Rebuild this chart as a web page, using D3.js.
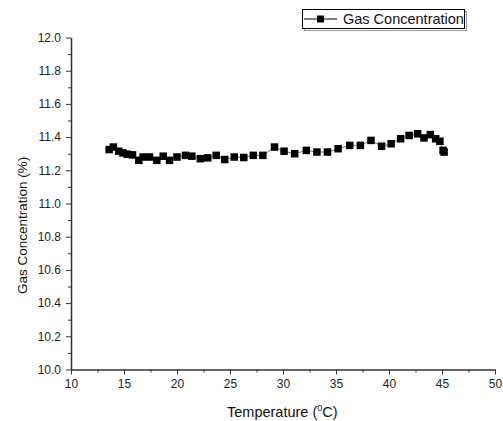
<!DOCTYPE html>
<html>
<head>
<meta charset="utf-8">
<script src="https://cdn.jsdelivr.net/npm/d3@7"></script>
<style>
    body { margin: 0; background: #fff; }
    svg { display: block; font-family: Arial, "Liberation Sans", sans-serif; }
    .axis text { fill: #222; font-size: 12px; }
    .axis path, .axis line { stroke: #333; }
</style>
</head>
<body>
<div id="chart"></div>
<script>

// temperature (deg C) and gas concentration (%)
var temperature = [13.6, 14.0, 14.5, 14.9, 15.3, 15.8, 16.4, 16.8, 17.4, 18.1, 18.7, 19.3,
    20.0, 20.8, 21.4, 22.2, 22.9, 23.7, 24.5, 25.4, 26.3, 27.2, 28.1, 29.2,
    30.1, 31.1, 32.2, 33.2, 34.2, 35.2, 36.3, 37.3, 38.3, 39.3, 40.2, 41.1,
    41.9, 42.7, 43.3, 43.9, 44.4, 44.8, 45.1, 45.2];
var concentration = [11.325, 11.34, 11.315, 11.305, 11.297, 11.293, 11.26, 11.28, 11.28, 11.26, 11.285, 11.26,
    11.28, 11.29, 11.285, 11.27, 11.275, 11.29, 11.265, 11.28, 11.277, 11.29, 11.29, 11.34,
    11.315, 11.30, 11.32, 11.31, 11.31, 11.33, 11.35, 11.35, 11.38, 11.345, 11.36, 11.39,
    11.41, 11.42, 11.395, 11.415, 11.39, 11.375, 11.32, 11.31];

var xTicks = [10, 15, 20, 25, 30, 35, 40, 45, 50];
var yTicks = [10.0, 10.2, 10.4, 10.6, 10.8, 11.0, 11.2, 11.4, 11.6, 11.8, 12.0];
var seriesName = 'Gas Concentration';

var width = 503;
var height = 421;
var margin = { left: 71, top: 37.5, right: 8, bottom: 51.5 };

var points = temperature.map((t, i) => ({ t: t, c: concentration[i] }));

var x = d3.scaleLinear()
    .domain([10, 50])
    .range([margin.left, width - margin.right]);

var y = d3.scaleLinear()
    .domain([10, 12])
    .range([height - margin.bottom, margin.top]);

var svg = d3.select('#chart')
    .append('svg')
    .attr('width', width)
    .attr('height', height);

// minor ticks first, then major ticks with labels
svg.append('g')
    .attr('class', 'axis')
    .attr('transform', 'translate(0,' + y(10) + ')')
    .call(d3.axisBottom(x).tickValues(d3.range(12.5, 50, 5)).tickSize(3).tickFormat(''))
    .call(g => g.select('.domain').remove());

svg.append('g')
    .attr('class', 'axis')
    .attr('transform', 'translate(' + x(10) + ',0)')
    .call(d3.axisLeft(y).tickValues(d3.range(10.1, 12, 0.2)).tickSize(3).tickFormat(''))
    .call(g => g.select('.domain').remove());

svg.append('g')
    .attr('class', 'axis')
    .attr('transform', 'translate(0,' + y(10) + ')')
    .call(d3.axisBottom(x).tickValues(xTicks).tickSize(5).tickSizeOuter(0).tickPadding(5).tickFormat(d3.format('d')))
    .call(g => g.select('.domain').attr('stroke-width', 1.5));

svg.append('g')
    .attr('class', 'axis')
    .attr('transform', 'translate(' + x(10) + ',0)')
    .call(d3.axisLeft(y).tickValues(yTicks).tickSize(5).tickSizeOuter(0).tickPadding(5).tickFormat(d3.format('.1f')))
    .call(g => g.select('.domain').attr('stroke-width', 1.5));

// series
svg.append('path')
    .datum(points)
    .attr('fill', 'none')
    .attr('stroke', '#777')
    .attr('stroke-width', 1)
    .attr('d', d3.line().x(d => x(d.t)).y(d => y(d.c)));

svg.selectAll('rect.pt')
    .data(points)
    .enter()
    .append('rect')
    .attr('class', 'pt')
    .attr('x', d => x(d.t) - 3.75)
    .attr('y', d => y(d.c) - 3.75)
    .attr('width', 7.5)
    .attr('height', 7.5)
    .attr('fill', '#000');

// axis titles
var xTitle = svg.append('text')
    .attr('x', 227)
    .attr('y', 417)
    .attr('font-size', 14.5)
    .attr('fill', '#111');
xTitle.append('tspan').text('Temperature (');
xTitle.append('tspan').attr('font-size', 9).attr('dy', -6).text('0');
xTitle.append('tspan').attr('dy', 6).text('C)');

svg.append('text')
    .attr('transform', 'translate(27,294) rotate(-90)')
    .attr('font-size', 13.5)
    .attr('fill', '#111')
    .text('Gas Concentration (%)');

// legend
var legend = svg.append('g');
legend.append('rect')
    .attr('x', 303.5)
    .attr('y', 10.5)
    .attr('width', 162)
    .attr('height', 19)
    .attr('fill', 'none')
    .attr('stroke', '#999')
    .attr('transform', 'translate(1,1)');
legend.append('rect')
    .attr('x', 302.5)
    .attr('y', 9.5)
    .attr('width', 162)
    .attr('height', 19)
    .attr('fill', '#fff')
    .attr('stroke', '#000');
legend.append('line')
    .attr('x1', 304)
    .attr('x2', 337)
    .attr('y1', 19)
    .attr('y2', 19)
    .attr('stroke', '#000');
legend.append('rect')
    .attr('x', 317)
    .attr('y', 15.5)
    .attr('width', 7)
    .attr('height', 7)
    .attr('fill', '#000');
legend.append('text')
    .attr('x', 343)
    .attr('y', 24)
    .attr('font-size', 14.5)
    .attr('fill', '#111')
    .text(seriesName);
</script>
</body>
</html>
